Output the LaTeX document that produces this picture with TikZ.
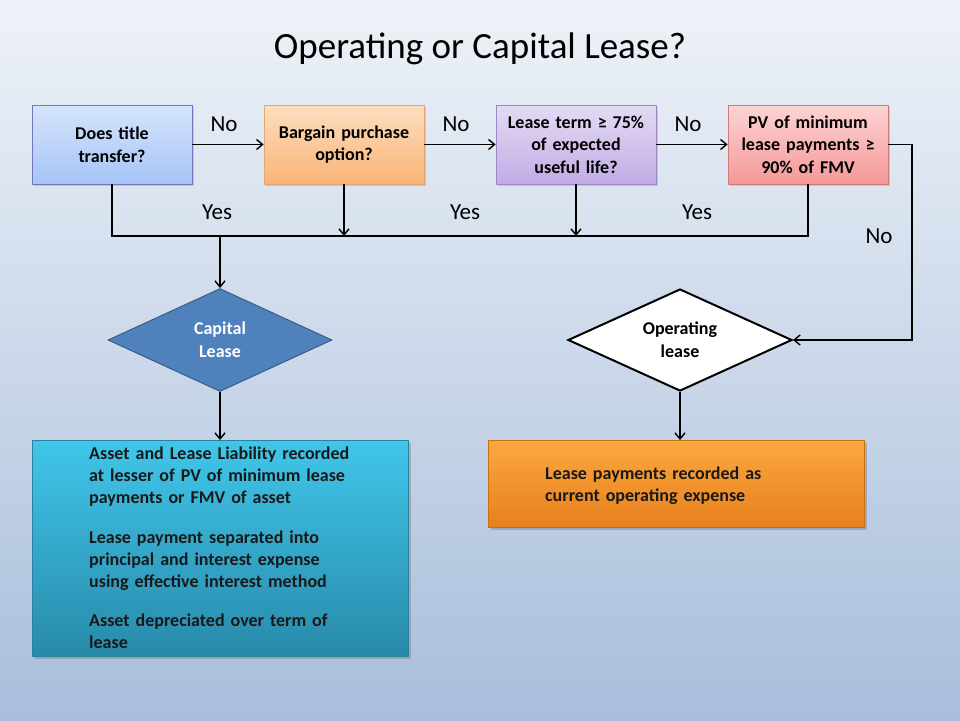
\documentclass[tikz,border=0pt]{standalone}
\usepackage{fontspec}
\setmainfont{Carlito}
\usetikzlibrary{shapes.geometric,shadows,arrows.meta}
\definecolor{bgtop}{HTML}{EEF2F8}
\definecolor{bgbot}{HTML}{A8BEDB}
\tikzset{
  qbox/.style={draw, line width=0.8pt, minimum width=160pt, minimum height=79pt,
    text width=156pt, align=center, font=\bfseries\fontsize{18}{22.5}\selectfont,
    inner sep=0pt, drop shadow={shadow xshift=1.5pt, shadow yshift=-1.5pt, opacity=0.3}},
  conn/.style={line width=1.6pt, black},
  arr/.style={conn, -{Straight Barb[length=6pt,width=10pt,line width=1.4pt]}},
  lbl/.style={font=\fontsize{23}{26}\selectfont, inner sep=0pt},
  bigbox/.style={line width=0.6pt, minimum width=376pt, inner sep=0pt,
    drop shadow={shadow xshift=3pt, shadow yshift=-3pt, opacity=0.45}},
  bodytext/.style={anchor=north west, inner sep=0pt, text width=320pt, align=left,
    font=\bfseries\fontsize{18}{22}\selectfont, text=black!90},
}
\begin{document}
\begin{tikzpicture}[x=1pt,y=-1pt]
\useasboundingbox (0,0) rectangle (960,720);
\fill[top color=bgtop, bottom color=bgbot] (0,0) rectangle (960,720);

\node[font=\fontsize{37}{42}\selectfont] (title) at (480,49) {Operating or Capital Lease?};

\node[qbox, draw=blue!35!gray!80, top color={rgb,255:red,214;green,228;blue,252}, bottom color={rgb,255:red,166;green,196;blue,246}] (b1) at (112,144.5) {Does title\\transfer?};
\node[qbox, draw={rgb,255:red,226;green,168;blue,112}, top color={rgb,255:red,253;green,222;blue,192}, bottom color={rgb,255:red,249;green,180;blue,118}] (b2) at (344,144.5) {Bargain purchase\\option?};
\node[qbox, draw={rgb,255:red,158;green,135;blue,197}, top color={rgb,255:red,228;green,218;blue,244}, bottom color={rgb,255:red,194;green,172;blue,229}] (b3) at (576,144.5) {Lease term ≥ 75\%\\of expected\\useful life?};
\node[qbox, draw={rgb,255:red,210;green,122;blue,122}, top color={rgb,255:red,253;green,212;blue,212}, bottom color={rgb,255:red,245;green,152;blue,152}] (b4) at (808,144.5) {PV of minimum\\lease payments ≥\\90\% of FMV};

\node[diamond, aspect=2.17, minimum width=224pt, minimum height=103pt, inner sep=0pt,
  fill={rgb,255:red,79;green,129;blue,189}, draw={rgb,255:red,56;green,93;blue,138}, line width=1pt,
  text=white, align=center, font=\bfseries\fontsize{18}{23}\selectfont] (cap) at (220,340) {Capital\\Lease};
\node[diamond, aspect=2.17, minimum width=224pt, minimum height=102pt, inner sep=0pt,
  fill=white, draw=black, line width=2pt, align=center, font=\bfseries\fontsize{18}{23}\selectfont] (op) at (680,340) {Operating\\lease};

\node[bigbox, anchor=north west, minimum height=216pt, draw={rgb,255:red,40;green,130;blue,160},
  top color={rgb,255:red,64;green,198;blue,234}, bottom color={rgb,255:red,40;green,138;blue,170}] (cb) at (32,440) {};
\node[bodytext] (ct) at (89,447)
 {Asset and Lease Liability recorded\\at lesser of PV of minimum lease\\payments or FMV of asset\\[18pt]
  Lease payment separated into\\principal and interest expense\\using effective interest method\\[17pt]
  Asset depreciated over term of\\lease};

\node[bigbox, anchor=north west, minimum height=87pt, draw={rgb,255:red,200;green,110;blue,20},
  top color={rgb,255:red,251;green,168;blue,62}, bottom color={rgb,255:red,232;green,128;blue,28}] (ob) at (488,440) {};
\node[bodytext] (ot) at (545,467)
 {Lease payments recorded as\\current operating expense};

% No arrows
\draw[arr] (b1.east) -- (b2.west);
\draw[arr] (b2.east) -- (b3.west);
\draw[arr] (b3.east) -- (b4.west);
\node[lbl] (no1) at (224,124) {No};
\node[lbl] (no2) at (456,124) {No};
\node[lbl] (no3) at (688,124) {No};

% Yes bus
\coordinate (ybus) at (220,236);
\draw[conn] (b1.south) |- (b4.south |- ybus) -- (b4.south);
\draw[arr] (b2.south) -- (b2.south |- ybus);
\draw[arr] (b3.south) -- (b3.south |- ybus);
\node[lbl] (y1) at (217,212) {Yes};
\node[lbl] (y2) at (465,212) {Yes};
\node[lbl] (y3) at (697,212) {Yes};
\draw[arr] (ybus) -- (cap.north);

% No to operating
\coordinate (rt) at (912,144.5);
\draw[arr] (b4.east) -- (rt) |- (op.east);
\node[lbl] (no4) at (879,236) {No};

\draw[arr] (cap.south) -- (cap.south |- cb.north);
\draw[arr] (op.south) -- (op.south |- ob.north);
\end{tikzpicture}
\end{document}
